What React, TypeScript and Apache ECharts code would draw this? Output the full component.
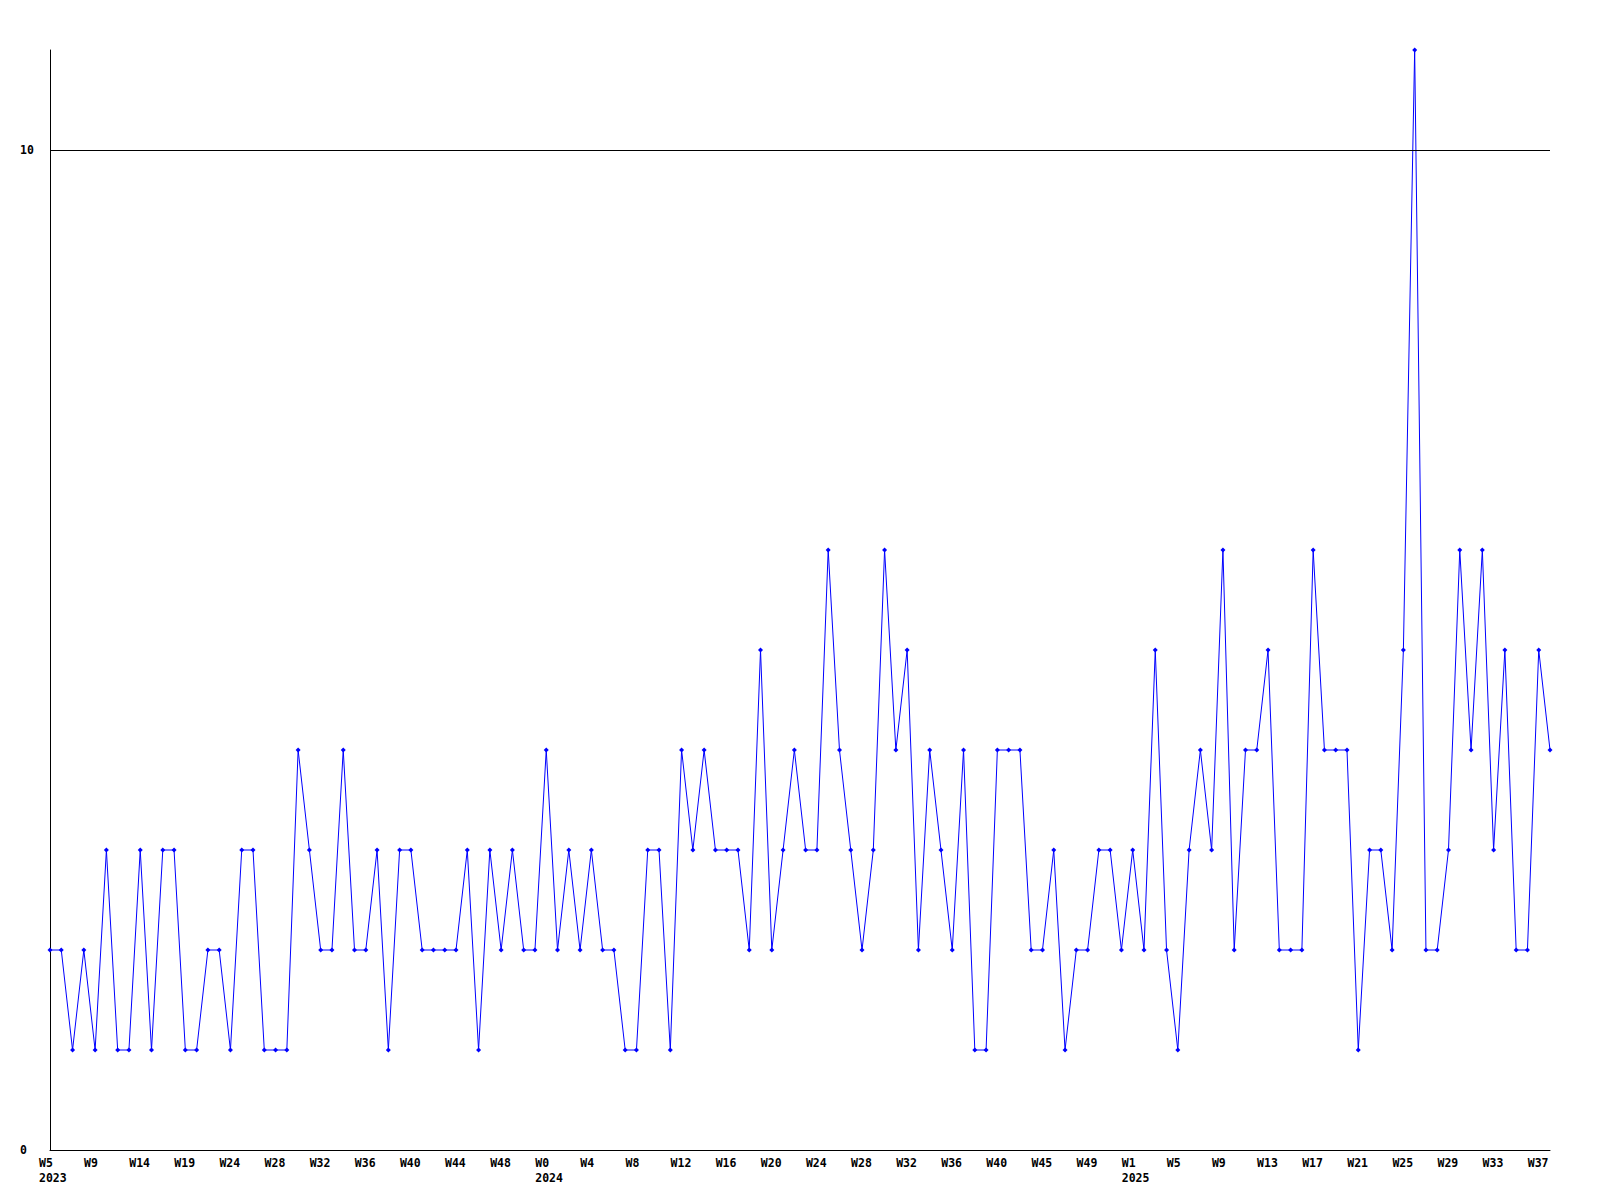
import React, { useEffect, useRef } from "react";
import * as echarts from "echarts";

// Week categories (one point per week)
const weeks2023 = [
  "W5", "W6", "W7", "W8", "W9", "W10", "W11", "W12", "W14", "W15",
  "W16", "W17", "W19", "W20", "W21", "W22", "W24", "W25", "W26", "W27",
  "W28", "W29", "W30", "W31", "W32", "W33", "W34", "W35", "W36", "W37",
  "W38", "W39", "W40", "W41", "W42", "W43", "W44", "W45", "W46", "W47",
  "W48", "W49", "W50", "W51",
];
const weeks2024 = [
  "W0", "W1", "W2", "W3", "W4", "W5", "W6", "W7", "W8", "W9",
  "W10", "W11", "W12", "W13", "W14", "W15", "W16", "W17", "W18", "W19",
  "W20", "W21", "W22", "W23", "W24", "W25", "W26", "W27", "W28", "W29",
  "W30", "W31", "W32", "W33", "W34", "W35", "W36", "W37", "W38", "W39",
  "W40", "W41", "W42", "W43", "W45", "W46", "W47", "W48", "W49", "W50",
  "W51", "W52",
];
const weeks2025 = [
  "W1", "W2", "W3", "W4", "W5", "W6", "W7", "W8", "W9", "W10",
  "W11", "W12", "W13", "W14", "W15", "W16", "W17", "W18", "W19", "W20",
  "W21", "W22", "W23", "W24", "W25", "W26", "W27", "W28", "W29", "W30",
  "W31", "W32", "W33", "W34", "W35", "W36", "W37", "W38",
];
const years = ["2023", "2024", "2025"];

const categories = [...weeks2023, ...weeks2024, ...weeks2025];

// Weekly counts
const values = [
  2, 2, 1, 2, 1, 3, 1, 1, 3, 1,
  3, 3, 1, 1, 2, 2, 1, 3, 3, 1,
  1, 1, 4, 3, 2, 2, 4, 2, 2, 3,
  1, 3, 3, 2, 2, 2, 2, 3, 1, 3,
  2, 3, 2, 2, 4, 2, 3, 2, 3, 2,
  2, 1, 1, 3, 3, 1, 4, 3, 4, 3,
  3, 3, 2, 5, 2, 3, 4, 3, 3, 6,
  4, 3, 2, 3, 6, 4, 5, 2, 4, 3,
  2, 4, 1, 1, 4, 4, 4, 2, 2, 3,
  1, 2, 2, 3, 3, 2, 3, 2, 5, 2,
  1, 3, 4, 3, 6, 2, 4, 4, 5, 2,
  2, 2, 6, 4, 4, 4, 1, 3, 3, 2,
  5, 11, 2, 2, 3, 6, 4, 6, 3, 5,
  2, 2, 5, 4,
];

const yTickLabels = [0, 10];
const gridLineValues = [10];

const FONT = "'DejaVu Sans Mono', monospace";

export default function App() {
  const ref = useRef<HTMLDivElement>(null);

  useEffect(() => {
    document.body.style.margin = "0";
    const chart = echarts.init(ref.current!, null, { renderer: "svg" });

    const yearStart: Record<number, string> = {
      0: years[0],
      [weeks2023.length]: years[1],
      [weeks2023.length + weeks2024.length]: years[2],
    };

    chart.setOption({
      animation: false,
      backgroundColor: "#ffffff",
      grid: { left: 50, right: 50, top: 50, bottom: 50, containLabel: false },
      xAxis: {
        type: "category",
        data: categories,
        boundaryGap: false,
        axisLine: { show: true, lineStyle: { color: "#000", width: 1 } },
        axisTick: { show: false },
        splitLine: { show: false },
        axisLabel: {
          interval: 3,
          margin: 5,
          align: "left",
          padding: [0, 0, 0, -11],
          color: "#000",
          fontFamily: FONT,
          fontWeight: "bold",
          fontSize: 11.5,
          lineHeight: 15,
          formatter: (v: string, i: number) =>
            yearStart[i] !== undefined ? v + "\n" + yearStart[i] : v,
        },
      },
      yAxis: {
        type: "value",
        min: 0,
        max: 11,
        interval: 10,
        axisLine: { show: true, lineStyle: { color: "#000", width: 1 } },
        axisTick: { show: false },
        splitLine: { show: false },
        axisLabel: {
          align: "left",
          margin: 30,
          color: "#000",
          fontFamily: FONT,
          fontWeight: "bold",
          fontSize: 11.5,
          formatter: (v: number) => (yTickLabels.includes(v) ? String(v) : ""),
        },
      },
      series: [
        {
          type: "line",
          data: values,
          symbol: "diamond",
          symbolSize: 5,
          showAllSymbol: true,
          lineStyle: { color: "#0000ff", width: 1 },
          itemStyle: { color: "#0000ff" },
          markLine: {
            silent: true,
            symbol: "none",
            label: { show: false },
            lineStyle: { color: "#000", width: 1, type: "solid" },
            data: gridLineValues.map((v) => ({ yAxis: v })),
          },
        },
      ],
    });

    return () => chart.dispose();
  }, []);

  return <div ref={ref} style={{ width: 1600, height: 1200 }} />;
}
